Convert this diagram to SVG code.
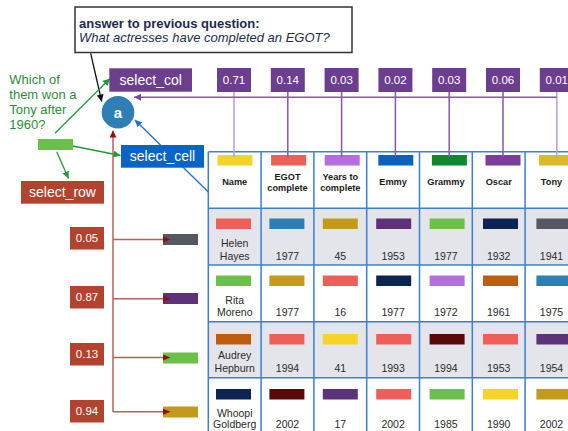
<svg xmlns="http://www.w3.org/2000/svg" width="568" height="431" viewBox="0 0 568 431">
<defs>
<style>
text{font-family:"Liberation Sans",Arial,sans-serif}
.wt{fill:#fff;font-size:11.5px;text-anchor:middle}
.lbl{fill:#fff;font-size:14px;text-anchor:middle}
.pbox{fill:#6b3e8e}
.rbox{fill:#b2432f}
.hd{font-size:9.2px;font-weight:bold;fill:#1a1a1a;text-anchor:middle}
.dt{font-size:10.5px;fill:#2a2a2a;text-anchor:middle}
.grid{stroke:#3b7fd4;stroke-width:1.5;fill:none}
.pv{stroke:#8558a8;stroke-width:1.5;fill:none}
.pvl{stroke:#b89ad2;stroke-width:1.5;fill:none}
.ra{stroke:#b9605a;stroke-width:1.5;fill:none}
.ga{stroke:#1f9a3a;stroke-width:1.3;fill:none}
</style>
<marker id="mPur" viewBox="0 0 10 10" refX="10" refY="5" markerWidth="7" markerHeight="7" markerUnits="userSpaceOnUse" orient="auto"><path d="M0,0L10,5L0,10z" fill="#7b4aa0"/></marker>
<marker id="mBlk" viewBox="0 0 10 10" refX="10" refY="5" markerWidth="7" markerHeight="7" markerUnits="userSpaceOnUse" orient="auto"><path d="M0,0L10,5L0,10z" fill="#111"/></marker>
<marker id="mGrn" viewBox="0 0 10 10" refX="10" refY="5" markerWidth="7" markerHeight="7" markerUnits="userSpaceOnUse" orient="auto"><path d="M0,0L10,5L0,10z" fill="#1f9a3a"/></marker>
<marker id="mBlu" viewBox="0 0 10 10" refX="10" refY="5" markerWidth="7" markerHeight="7" markerUnits="userSpaceOnUse" orient="auto"><path d="M0,0L10,5L0,10z" fill="#1f6fd0"/></marker>
<marker id="mRed" viewBox="0 0 10 10" refX="10" refY="5" markerWidth="7" markerHeight="7" markerUnits="userSpaceOnUse" orient="auto"><path d="M0,0L10,5L0,10z" fill="#8b1212"/></marker>
</defs>
<rect width="568" height="431" fill="#fff"/>

<!-- table -->
<g id="table">
<rect x="208.3" y="208.3" width="360" height="56.7" fill="#e4e5ea"/>
<rect x="208.3" y="321.7" width="360" height="56" fill="#e4e5ea"/>
<g id="header">
<rect x="217.5" y="155" width="35" height="10.5" fill="#f5d327"/>
<rect x="271.1" y="155" width="35" height="10.5" fill="#ef5f5a"/>
<rect x="324.7" y="155" width="35" height="10.5" fill="#b46ee0"/>
<rect x="378.3" y="155" width="35" height="10.5" fill="#0a62c0"/>
<rect x="431.9" y="155" width="35" height="10.5" fill="#0b8a32"/>
<rect x="485.5" y="155" width="35" height="10.5" fill="#7a3d9a"/>
<rect x="539.1" y="155" width="35" height="10.5" fill="#dcb928"/>
<text class="hd" x="234.7" y="185">Name</text>
<text class="hd" x="287.5" y="179.5">EGOT</text>
<text class="hd" x="287.5" y="190.5">complete</text>
<text class="hd" x="340.3" y="179.5">Years to</text>
<text class="hd" x="340.3" y="190.5">complete</text>
<text class="hd" x="393.1" y="185">Emmy</text>
<text class="hd" x="445.9" y="185">Grammy</text>
<text class="hd" x="498.7" y="185">Oscar</text>
<text class="hd" x="551.5" y="185">Tony</text>
</g>
<g id="row-helen">
<rect x="216" y="218.5" width="35" height="10.5" fill="#ef5f5a"/>
<rect x="269.4" y="218.5" width="35" height="10.5" fill="#2e7eb0"/>
<rect x="322.8" y="218.5" width="35" height="10.5" fill="#c49a1a"/>
<rect x="376.2" y="218.5" width="35" height="10.5" fill="#5e3278"/>
<rect x="429.6" y="218.5" width="35" height="10.5" fill="#6cc04a"/>
<rect x="483" y="218.5" width="35" height="10.5" fill="#0b2452"/>
<rect x="536.4" y="218.5" width="35" height="10.5" fill="#545861"/>
<text class="dt" x="234.7" y="247">Helen</text>
<text class="dt" x="234.7" y="259.7">Hayes</text>
<text class="dt" x="287.5" y="259.7">1977</text>
<text class="dt" x="340.3" y="259.7">45</text>
<text class="dt" x="393.1" y="259.7">1953</text>
<text class="dt" x="445.9" y="259.7">1977</text>
<text class="dt" x="498.7" y="259.7">1932</text>
<text class="dt" x="551.5" y="259.7">1941</text>
</g>
<g id="row-rita">
<rect x="216" y="275.5" width="35" height="10.5" fill="#6cc04a"/>
<rect x="269.4" y="275.5" width="35" height="10.5" fill="#c49a1a"/>
<rect x="322.8" y="275.5" width="35" height="10.5" fill="#ef5f5a"/>
<rect x="376.2" y="275.5" width="35" height="10.5" fill="#0b2452"/>
<rect x="429.6" y="275.5" width="35" height="10.5" fill="#b46ee0"/>
<rect x="483" y="275.5" width="35" height="10.5" fill="#be5c10"/>
<rect x="536.4" y="275.5" width="35" height="10.5" fill="#2e7eb0"/>
<text class="dt" x="234.7" y="303.8">Rita</text>
<text class="dt" x="234.7" y="316.4">Moreno</text>
<text class="dt" x="287.5" y="316.4">1977</text>
<text class="dt" x="340.3" y="316.4">16</text>
<text class="dt" x="393.1" y="316.4">1977</text>
<text class="dt" x="445.9" y="316.4">1972</text>
<text class="dt" x="498.7" y="316.4">1961</text>
<text class="dt" x="551.5" y="316.4">1975</text>
</g>
<g id="row-audrey">
<rect x="216" y="334" width="35" height="10.5" fill="#be5c10"/>
<rect x="269.4" y="334" width="35" height="10.5" fill="#ef5f5a"/>
<rect x="322.8" y="334" width="35" height="10.5" fill="#f5d327"/>
<rect x="376.2" y="334" width="35" height="10.5" fill="#ef5f5a"/>
<rect x="429.6" y="334" width="35" height="10.5" fill="#5a0808"/>
<rect x="483" y="334" width="35" height="10.5" fill="#ef5f5a"/>
<rect x="536.4" y="334" width="35" height="10.5" fill="#5e3278"/>
<text class="dt" x="234.7" y="358.8">Audrey</text>
<text class="dt" x="234.7" y="372.4">Hepburn</text>
<text class="dt" x="287.5" y="372.4">1994</text>
<text class="dt" x="340.3" y="372.4">41</text>
<text class="dt" x="393.1" y="372.4">1993</text>
<text class="dt" x="445.9" y="372.4">1994</text>
<text class="dt" x="498.7" y="372.4">1953</text>
<text class="dt" x="551.5" y="372.4">1954</text>
</g>
<g id="row-whoopi">
<rect x="216" y="389" width="35" height="10.5" fill="#0b2452"/>
<rect x="269.4" y="389" width="35" height="10.5" fill="#5a0808"/>
<rect x="322.8" y="389" width="35" height="10.5" fill="#5e3278"/>
<rect x="376.2" y="389" width="35" height="10.5" fill="#ef5f5a"/>
<rect x="429.6" y="389" width="35" height="10.5" fill="#6cc04a"/>
<rect x="483" y="389" width="35" height="10.5" fill="#f5d327"/>
<rect x="536.4" y="389" width="35" height="10.5" fill="#c49a1a"/>
<text class="dt" x="234.7" y="417">Whoopi</text>
<text class="dt" x="234.7" y="428">Goldberg</text>
<text class="dt" x="287.5" y="428">2002</text>
<text class="dt" x="340.3" y="428">17</text>
<text class="dt" x="393.1" y="428">2002</text>
<text class="dt" x="445.9" y="428">1985</text>
<text class="dt" x="498.7" y="428">1990</text>
<text class="dt" x="551.5" y="428">2002</text>
</g>
<path class="grid" d="M208.3,151.7H570M208.3,208.3H570M208.3,265H570M208.3,321.7H570M208.3,377.7H570M208.3,151.7V432M261.1,151.7V432M313.9,151.7V432M366.7,151.7V432M419.5,151.7V432M472.3,151.7V432M525.1,151.7V432"/>
</g>

<!-- connectors -->
<g id="connectors">
<path class="pvl" d="M234,92V157"/>
<path class="pv" d="M287.8,92V157M341.6,92V157M395.4,92V157M449.2,92V157M503,92V157"/>
<path class="pvl" d="M556.8,92V157"/>
<path class="pv" d="M556.8,97.3H134" marker-end="url(#mPur)"/>
<path d="M90.7,53.3L101.7,101.5" stroke="#111" stroke-width="1.3" fill="none" marker-end="url(#mBlk)"/>
<path class="ga" d="M55,133.3L110,78.5" marker-end="url(#mGrn)"/>
<path class="ga" d="M72.7,146L120.5,155.5" marker-end="url(#mGrn)"/>
<path class="ga" d="M56.7,151.7L68.5,178.5" marker-end="url(#mGrn)"/>
<path d="M208.3,192L135,120" stroke="#1f6fd0" stroke-width="1.3" fill="none" marker-end="url(#mBlu)"/>
<path class="ra" d="M113,412V130.5" marker-end="url(#mRed)"/>
<path class="ra" d="M113,239.5H170.5" marker-end="url(#mRed)"/>
<path class="ra" d="M113,298.7H170.5" marker-end="url(#mRed)"/>
<path class="ra" d="M113,357.5H170.5" marker-end="url(#mRed)"/>
<path class="ra" d="M113,411.7H170.5" marker-end="url(#mRed)"/>
</g>

<!-- row weight swatches (drawn under arrow tips) -->
<g id="row-swatches">
<rect x="163" y="234" width="35" height="11" fill="#545861"/>
<rect x="163" y="293" width="35" height="11" fill="#5e3278"/>
<rect x="163" y="352.5" width="35" height="11" fill="#6cc04a"/>
<rect x="163" y="406.5" width="35" height="11" fill="#c49a1a"/>
</g>
<g id="row-arrowtips">
<path d="M163,236.5L170.5,239.5L163,242.5z" fill="#8b1212"/>
<path d="M163,295.7L170.5,298.7L163,301.7z" fill="#8b1212"/>
<path d="M163,354.5L170.5,357.5L163,360.5z" fill="#8b1212"/>
<path d="M163,408.7L170.5,411.7L163,414.7z" fill="#8b1212"/>
</g>

<g id="answer-box">
<rect x="75" y="7" width="277" height="45.5" fill="#fff" stroke="#333" stroke-width="1.5"/>
<text x="79" y="27.5" font-size="13" font-weight="bold" fill="#1c2b4d">answer to previous question:</text>
<text x="79" y="41.5" font-size="13" font-style="italic" fill="#1c2b4d">What actresses have completed an EGOT?</text>
</g>

<g id="question">
<text font-size="13" fill="#2e8b3a"><tspan x="9.3" y="83.5">Which of</tspan><tspan x="9.3" y="98.5">them won a</tspan><tspan x="9.3" y="113.5">Tony after</tspan><tspan x="9.3" y="128.5">1960?</tspan></text>
</g>

<g id="question-swatch"><rect x="38" y="139" width="35" height="11" fill="#6cc04a"/></g>

<g id="node-a">
<circle cx="118" cy="112.3" r="16.3" fill="#2e7fb5"/>
<text x="118" y="117.5" font-size="15" font-weight="bold" fill="#fff" text-anchor="middle">a</text>
</g>

<g id="select-col"><rect class="pbox" x="109.3" y="68.3" width="82.7" height="23.4"/><text class="lbl" x="150.7" y="85">select_col</text></g>
<g id="select-cell"><rect x="121" y="145" width="83" height="22.7" fill="#0a64c8"/><text class="lbl" x="162.5" y="161.3">select_cell</text></g>
<g id="select-row"><rect class="rbox" x="21" y="181" width="83" height="22.7"/><text class="lbl" x="62.5" y="197.3">select_row</text></g>

<g id="col-weights">
<rect class="pbox" x="217" y="68" width="34" height="24"/><text class="wt" x="234" y="84">0.71</text>
<rect class="pbox" x="270.8" y="68" width="34" height="24"/><text class="wt" x="287.8" y="84">0.14</text>
<rect class="pbox" x="324.6" y="68" width="34" height="24"/><text class="wt" x="341.6" y="84">0.03</text>
<rect class="pbox" x="378.4" y="68" width="34" height="24"/><text class="wt" x="395.4" y="84">0.02</text>
<rect class="pbox" x="432.2" y="68" width="34" height="24"/><text class="wt" x="449.2" y="84">0.03</text>
<rect class="pbox" x="486" y="68" width="34" height="24"/><text class="wt" x="503" y="84">0.06</text>
<rect class="pbox" x="539.8" y="68" width="34" height="24"/><text class="wt" x="556.8" y="84">0.01</text>
</g>

<g id="row-weights">
<rect class="rbox" x="70" y="227" width="34" height="22.5"/><text class="wt" x="87" y="242.3">0.05</text>
<rect class="rbox" x="70" y="286" width="34" height="22.5"/><text class="wt" x="87" y="301.3">0.87</text>
<rect class="rbox" x="70" y="343" width="34" height="22.5"/><text class="wt" x="87" y="358.3">0.13</text>
<rect class="rbox" x="70" y="400" width="34" height="22.5"/><text class="wt" x="87" y="415.3">0.94</text>
</g>
</svg>
